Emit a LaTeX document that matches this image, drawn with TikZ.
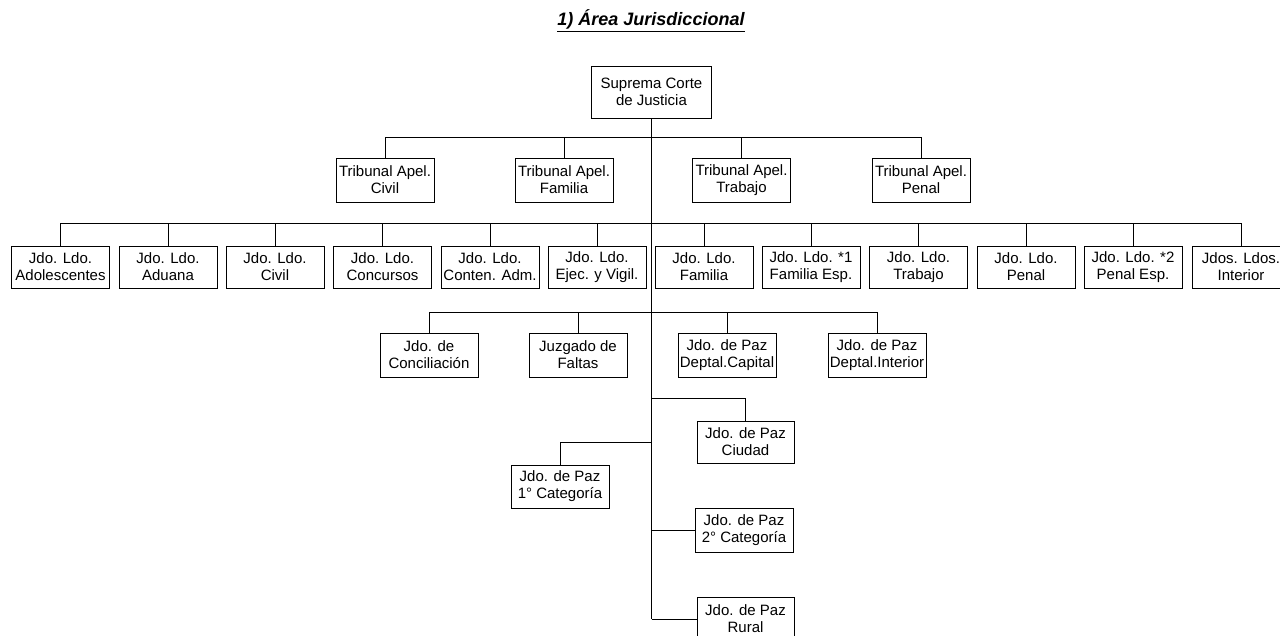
\documentclass[tikz,border=0pt]{standalone}
\usepackage{fontspec}
\setmainfont{Liberation Sans}
\begin{document}
\begin{tikzpicture}[x=1pt,y=-1pt,
  box/.style={draw, line width=0.9pt, inner sep=0pt, align=center,
    minimum width=98pt, minimum height=44pt, font=\fontsize{15}{17}\selectfont},
  row3/.style={box, minimum height=42pt},
  link/.style={line width=0.9pt}]
\useasboundingbox (0,0) rectangle (1280,636);
\node[font=\fontsize{18}{20}\selectfont\bfseries\itshape, anchor=base] (title) at (651,26) {\underline{1) Área Jurisdiccional}};
\node[box, minimum width=120pt, minimum height=52pt] (sup) at (651.5,92) {Suprema Corte\\de Justicia};
% Tribunales
\node[box] (tciv) at (385,180) {Tribunal Apel.\\Civil};
\node[box] (tfam) at (564,180) {Tribunal Apel.\\Familia};
\node[box] (ttra) at (741.5,180) {Tribunal Apel.\\Trabajo};
\node[box] (tpen) at (921,180) {Tribunal Apel.\\Penal};
% Juzgados letrados
\node[row3] (j1) at (60.5,267) {Jdo. Ldo.\\Adolescentes};
\node[row3] (j2) at (168,267) {Jdo. Ldo.\\Aduana};
\node[row3] (j3) at (275,267) {Jdo. Ldo.\\Civil};
\node[row3] (j4) at (382.5,267) {Jdo. Ldo.\\Concursos};
\node[row3] (j5) at (490,267) {Jdo. Ldo.\\Conten. Adm.};
\node[row3] (j6) at (597,267) {Jdo. Ldo.\\Ejec. y Vigil.};
\node[row3] (j7) at (704,267) {Jdo. Ldo.\\Familia};
\node[row3] (j8) at (811,267) {Jdo. Ldo. *1\\Familia Esp.};
\node[row3] (j9) at (918.5,267) {Jdo. Ldo.\\Trabajo};
\node[row3] (j10) at (1026,267) {Jdo. Ldo.\\Penal};
\node[row3] (j11) at (1133,267) {Jdo. Ldo. *2\\Penal Esp.};
\node[row3] (j12) at (1241,267) {Jdos. Ldos.\\Interior};
% Row 4
\node[box] (k1) at (429,355) {Jdo. de\\Conciliación};
\node[box] (k2) at (578,355) {Juzgado de\\Faltas};
\node[box] (k3) at (727,355) {Jdo. de Paz\\Deptal.Capital};
\node[box] (k4) at (877,355) {Jdo. de Paz\\Deptal.Interior};
% Paz
\node[box, minimum width=97pt, minimum height=42pt] (ciu) at (745.5,442) {Jdo. de Paz\\Ciudad};
\node[box, minimum height=43pt] (cat1) at (560,486.5) {Jdo. de Paz\\1° Categoría};
\node[box] (cat2) at (744,530) {Jdo. de Paz\\2° Categoría};
\node[box, minimum width=97pt] (rur) at (745.5,619) {Jdo. de Paz\\Rural};
% bus coordinates
\coordinate (b1) at (651,137);
\coordinate (b2) at (651,223);
\coordinate (b3) at (651,312);
\coordinate (b4) at (651,398);
\coordinate (b5) at (651,442);
% trunk
\draw[link] (sup.south) -- (sup.south |- rur.west);
% tribunals
\draw[link] (tciv.north) -- (tciv.north |- b1) -- (tpen.north |- b1) -- (tpen.north);
\foreach \n in {tfam,ttra} \draw[link] (\n.north) -- (\n.north |- b1);
% letrados
\draw[link] (j1.north) -- (j1.north |- b2) -- (j12.north |- b2) -- (j12.north);
\foreach \n in {j2,j3,j4,j5,j6,j7,j8,j9,j10,j11} \draw[link] (\n.north) -- (\n.north |- b2);
% row 4
\draw[link] (k1.north) -- (k1.north |- b3) -- (k4.north |- b3) -- (k4.north);
\foreach \n in {k2,k3} \draw[link] (\n.north) -- (\n.north |- b3);
% paz
\draw[link] (b4) -| (ciu.north);
\draw[link] (b5) -| (cat1.north);
\draw[link] (sup.south |- cat2.west) -- (cat2.west);
\draw[link] (sup.south |- rur.west) -- (rur.west);
\end{tikzpicture}
\end{document}
